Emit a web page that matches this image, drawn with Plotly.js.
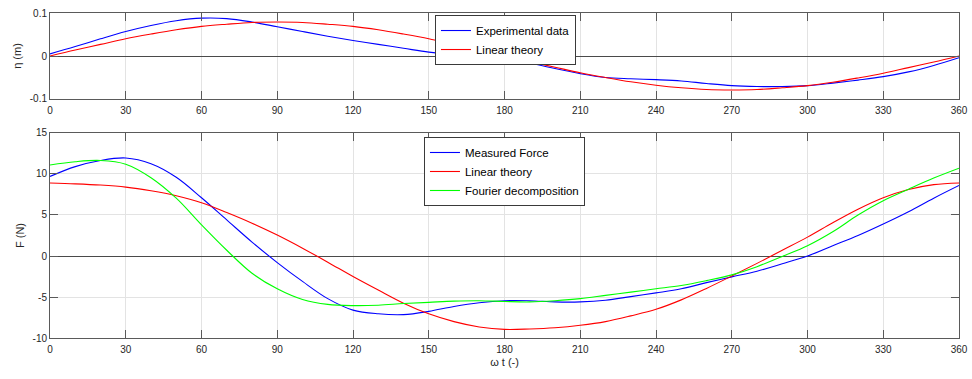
<!DOCTYPE html>
<html>
<head>
<meta charset="utf-8">
<script src="https://cdn.plot.ly/plotly-3.0.1.min.js"></script>
<style>
  html, body { margin: 0; padding: 0; background: #fff; }
  #chart { width: 972px; height: 379px; }
</style>
</head>
<body>
<div id="chart"></div>
<script>
// Phase angle (degrees), sampled every 10 degrees
const phase = [0,10,20,30,40,50,60,70,80,90,100,110,120,130,140,150,160,170,180,
               190,200,210,220,230,240,250,260,270,280,290,300,310,320,330,340,350,360];

// Free-surface elevation eta (m)
const etaExperimental = [0.005,0.022,0.040,0.057,0.071,0.082,0.088,0.087,0.079,0.068,0.057,0.046,
  0.036,0.027,0.018,0.009,0.002,-0.004,-0.009,-0.017,-0.029,-0.041,-0.050,-0.053,-0.055,-0.058,
  -0.064,-0.069,-0.071,-0.071,-0.069,-0.063,-0.056,-0.048,-0.037,-0.022,-0.004];
const etaLinear = [0,0.014,0.027,0.040,0.051,0.061,0.069,0.074,0.078,0.079,0.078,0.074,
  0.069,0.061,0.051,0.040,0.027,0.014,0.001,-0.013,-0.026,-0.039,-0.050,-0.060,-0.068,-0.074,
  -0.078,-0.079,-0.078,-0.074,-0.069,-0.061,-0.051,-0.040,-0.027,-0.014,0];

// Force F (N)
const forceMeasured = [9.7,10.9,11.65,11.95,11.25,9.6,7.1,4.4,1.7,-0.8,-3.1,-5.2,
  -6.6,-7.05,-7.15,-6.75,-6.15,-5.7,-5.45,-5.45,-5.6,-5.6,-5.4,-4.95,-4.5,-4.0,
  -3.25,-2.55,-1.85,-0.95,0,1.25,2.5,3.9,5.4,7.05,8.6];
const forceLinear = [8.9,8.8,8.65,8.4,7.95,7.35,6.5,5.3,4.0,2.55,0.95,-0.75,
  -2.5,-4.15,-5.75,-7.05,-8.0,-8.65,-8.95,-8.9,-8.75,-8.45,-8.0,-7.3,-6.5,-5.35,
  -3.95,-2.45,-0.9,0.7,2.3,4.05,5.7,7.1,8.1,8.7,8.9];
const forceFourier = [11.1,11.5,11.65,11.2,9.55,7.05,3.8,0.7,-2.1,-4.0,-5.3,-5.9,
  -6.05,-6.0,-5.8,-5.65,-5.5,-5.45,-5.55,-5.6,-5.45,-5.2,-4.8,-4.4,-4.0,-3.6,
  -3.0,-2.3,-1.3,-0.05,1.25,2.95,5.0,6.75,8.15,9.5,10.7];

// Tick values and labels
const phaseTicks = [0,30,60,90,120,150,180,210,240,270,300,330,360];
const phaseTickText = ['0','30','60','90','120','150','180','210','240','270','300','330','360'];
const etaTicks = [-0.1,0,0.1];
const etaTickText = ['-0.1','0','0.1'];
const forceTicks = [-10,-5,0,5,10,15];
const forceTickText = ['-10','-5','0','5','10','15'];

const FONT = 'Liberation Sans, Arial, sans-serif';
const AXIS = '#5a5a5a';
const GRID = '#e3e3e3';

const lineStyle = (color) => ({color: color, width: 1.1, shape: 'spline', smoothing: 1});

const traces = [
  {x: phase, y: etaExperimental, name: 'Experimental data', xaxis: 'x', yaxis: 'y',
   legend: 'legend', line: lineStyle('#0000ff')},
  {x: phase, y: etaLinear, name: 'Linear theory', xaxis: 'x', yaxis: 'y',
   legend: 'legend', line: lineStyle('#ff0000')},
  {x: phase, y: forceMeasured, name: 'Measured Force', xaxis: 'x2', yaxis: 'y2',
   legend: 'legend2', line: lineStyle('#0000ff')},
  {x: phase, y: forceLinear, name: 'Linear theory', xaxis: 'x2', yaxis: 'y2',
   legend: 'legend2', line: lineStyle('#ff0000')},
  {x: phase, y: forceFourier, name: 'Fourier decomposition', xaxis: 'x2', yaxis: 'y2',
   legend: 'legend2', line: lineStyle('#00ff00')}
].map(t => Object.assign({type: 'scatter', mode: 'lines', hoverinfo: 'skip'}, t));

function xAxis(anchor, showTitle) {
  const ax = {
    anchor: anchor, domain: [0, 1], range: [0, 360],
    tickmode: 'array', tickvals: phaseTicks, ticktext: phaseTickText,
    ticks: 'inside', ticklen: 8, tickwidth: 1, tickcolor: AXIS,
    showline: true, linecolor: AXIS, linewidth: 1, mirror: 'ticks',
    showgrid: true, gridcolor: GRID, gridwidth: 1, zeroline: false,
    ticklabelstandoff: 2,
    tickfont: {family: FONT, size: 10, color: '#262626'}
  };
  if (showTitle) {
    ax.title = {text: 'ω t (-)', font: {family: FONT, size: 11, color: '#262626'}, standoff: 4};
  }
  return ax;
}

function yAxis(anchor, domain, range, vals, text, title) {
  return {
    anchor: anchor, domain: domain, range: range,
    tickmode: 'array', tickvals: vals, ticktext: text,
    ticks: 'inside', ticklen: 8, tickwidth: 1, tickcolor: AXIS,
    showline: true, linecolor: AXIS, linewidth: 1, mirror: 'ticks',
    showgrid: true, gridcolor: GRID, gridwidth: 1,
    zeroline: true, zerolinecolor: '#4a4a4a', zerolinewidth: 1,
    tickfont: {family: FONT, size: 10, color: '#262626'},
    title: {text: title, font: {family: FONT, size: 11, color: '#262626'}, standoff: 5}
  };
}

const legendStyle = {
  bgcolor: '#ffffff', bordercolor: '#3a3a3a', borderwidth: 1,
  font: {family: FONT, size: 11.5, color: '#000000'},
  xanchor: 'left', yanchor: 'top', itemwidth: 30, tracegroupgap: 0,
  itemclick: false, itemdoubleclick: false
};

const layout = {
  width: 972, height: 379,
  margin: {l: 50, r: 13, t: 13, b: 41},
  paper_bgcolor: '#ffffff', plot_bgcolor: '#ffffff',
  showlegend: true,
  xaxis: xAxis('y', false),
  yaxis: yAxis('x', [0.7354, 1], [-0.1, 0.1], etaTicks, etaTickText, 'η (m)'),
  xaxis2: xAxis('y2', true),
  yaxis2: yAxis('x2', [0, 0.6308], [-10, 15], forceTicks, forceTickText, 'F (N)'),
  legend: Object.assign({x: 0.4235, y: 0.9938}, legendStyle),
  legend2: Object.assign({x: 0.4114, y: 0.6185}, legendStyle)
};

Plotly.newPlot('chart', traces, layout, {staticPlot: true, displayModeBar: false});
</script>
</body>
</html>
